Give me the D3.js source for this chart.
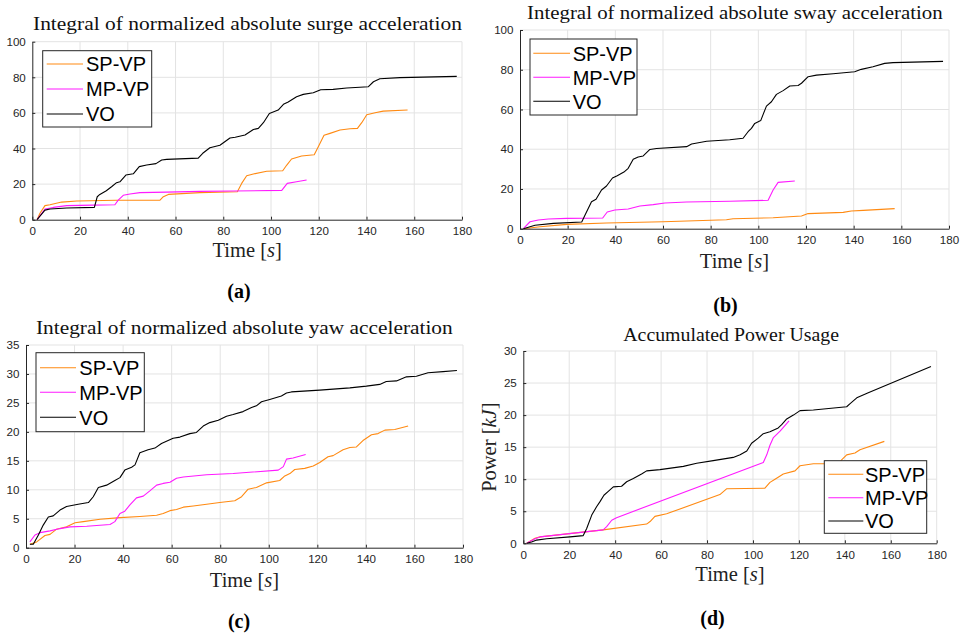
<!DOCTYPE html>
<html>
<head>
<meta charset="utf-8">
<script src="https://cdn.jsdelivr.net/npm/d3@7"></script>
<style>
  html, body { margin: 0; padding: 0; background: #fff; }
  svg { display: block; }
  .tick text { font-family: "Liberation Sans", Arial, sans-serif; font-size: 11.6px; fill: #262626; }
</style>
</head>
<body>
<svg id="fig" width="961" height="638"></svg>
<script>
// Series names shared by all four panels
const seriesNames = ["SP-VP", "MP-VP", "VO"];
const seriesColors = ["#ff8a12", "#ff1aff", "#000000"];

// Tick labels
const timeTicks = [0, 20, 40, 60, 80, 100, 120, 140, 160, 180];
const pctTicks = [0, 20, 40, 60, 80, 100];
const yawTicks = [0, 5, 10, 15, 20, 25, 30, 35];
const powerTicks = [0, 5, 10, 15, 20, 25, 30];

// (a) surge acceleration integral: [time s, value]
const surgeSP = [[2,0],[3.2,3.6],[5.3,7.9],[7.4,8.4],[12.3,9.9],[18.6,10.5],[35.3,10.9],[53.5,11],[54.9,12.9],[57,14.2],[70.2,15.2],[85.9,15.7],[87.7,20.4],[89.8,24.7],[92.6,25.7],[98.2,27.2],[104.9,27.5],[106.6,30.7],[108.6,34.1],[112.8,35.8],[118.1,36.5],[119.8,41],[122.2,47.4],[124.7,48.5],[128.9,50.4],[133.1,51.1],[136.2,51.3],[138,54.5],[140.1,59],[143.6,60.1],[147,61],[157.2,61.6]];
const surgeMP = [[2,0],[5.3,6],[8.8,6.9],[14.4,7.9],[25.6,8.2],[34.6,8.4],[36,11],[38.1,13.7],[40.9,14.4],[45.1,15.2],[56.3,15.5],[70.2,15.9],[84.2,16.1],[104.5,16.5],[106.8,20.4],[110.7,21.3],[114.9,22.3]];
const surgeVO = [[2,0],[5.3,5.4],[7.4,6],[14.4,6.6],[26,6.9],[27.2,12.9],[28.3,14.2],[31,16.3],[33.2,18.5],[35.3,20.8],[36.7,21.3],[39.2,25.1],[42.3,25.8],[44.8,29.8],[47.9,30.7],[51.8,31.5],[54.2,33.5],[56.3,33.9],[69.5,34.6],[71.4,37.3],[74.4,40.4],[78.6,41.8],[82.8,45.9],[85,46.3],[89.1,47.6],[92.6,50.7],[94.7,51.3],[96.8,54.5],[99.3,59.7],[103,61.6],[105.2,64.8],[107.2,66.1],[110.7,69.1],[113.5,70.4],[117.7,71.3],[120.8,73],[126,73.2],[131.7,74],[140.8,74.7],[142.9,77.5],[145.6,79.2],[154,79.8],[177.8,80.5]];

// (b) sway acceleration integral
const swaySP = [[1.4,0],[8.4,1],[19.6,2.2],[36.3,2.9],[60.1,3.5],[86.6,4.5],[89.4,5],[106.2,5.5],[118.1,6.4],[120.9,7.6],[135.6,8.2],[139,8.9],[144,9.2],[157.2,10.1]];
const swayMP = [[1.4,0],[4.2,3.5],[7.7,4.4],[11.9,4.9],[19.6,5.2],[34.7,5.4],[36.6,8.4],[39.8,9.4],[45.4,9.9],[50.3,11.4],[55.9,12.1],[60.8,12.9],[69.9,13.4],[88,13.8],[104.1,14.3],[106.2,19.5],[108.3,23.3],[115.3,24]];
const swayVO = [[1.4,0],[6.3,1.7],[14,2.7],[25.9,3.4],[27.3,6.9],[30,13.6],[31.9,14.8],[34.2,19.5],[36.3,21.5],[38.8,25.5],[40.8,26.7],[43.6,28.5],[45.4,30.4],[47.5,34.9],[49.6,36.1],[51.7,36.6],[54.5,39.9],[57.3,40.4],[69.9,41.3],[72,42.6],[78.3,44],[88,44.8],[93.6,45.5],[95.7,48.8],[97.1,50.5],[98.5,53],[101,54.4],[103.4,61.7],[105.5,63.9],[107.6,67.6],[110.4,69.5],[113.2,71.8],[116.7,72.1],[118.1,73.2],[120.9,76.5],[124.4,77.3],[131.4,78],[140.4,79],[143.2,80.2],[148.1,81.5],[153,83.2],[156.5,83.6],[177.5,84.2]];

// (c) yaw acceleration integral
const yawSP = [[1.6,0.6],[4.4,1],[7.8,2.1],[9.9,2.3],[12.6,3.2],[16.7,3.6],[20.2,4.3],[23.6,4.5],[30.5,4.9],[38.7,5.2],[46.9,5.4],[53.8,5.6],[56.5,5.9],[59.3,6.4],[62,6.6],[64.8,7],[68.9,7.2],[74.4,7.5],[79.8,7.8],[86,8.1],[88.8,8.8],[91.5,10.1],[94.9,10.4],[99.1,11.2],[104.5,11.6],[106.6,12.4],[108.7,12.8],[110.7,13.5],[114.8,13.7],[118.3,14.1],[121,14.7],[124.4,15.7],[126.5,15.9],[130.6,16.9],[133.4,17.3],[136.1,17.4],[138.8,18.5],[142.3,19.5],[145,19.7],[147.8,20.3],[151.9,20.4],[157.4,21]];
const yawMP = [[1.6,1],[3.7,2.2],[5.8,2.6],[9.9,2.9],[14,3.3],[18.1,3.6],[25,3.7],[34.6,4],[36.6,4.5],[38.7,5.9],[40.7,6.3],[42.8,7.4],[45.5,8.6],[48.3,8.9],[51,9.8],[53.8,10.8],[56.5,11.1],[59.3,11.3],[62,12],[64.8,12.2],[74.4,12.6],[85.3,12.8],[103.9,13.4],[106,14],[107.3,15.3],[110,15.5],[115.2,16.1]];
const yawVO = [[1.6,0.6],[3,0.6],[5.1,2.2],[7.1,3.9],[9.2,5.3],[11.2,5.5],[14,6.5],[16.7,7.1],[21.5,7.5],[25.7,7.8],[27.7,8.8],[29.8,10.4],[33.2,10.8],[36.6,11.6],[38.7,12.1],[40.7,13.4],[43.5,13.9],[44.9,14.3],[46.9,16.4],[50.3,16.9],[53.1,17.2],[55.8,18],[60.6,18.9],[63.4,19.1],[67.5,19.7],[70.2,19.9],[73,21],[75.7,21.6],[79.2,22],[82.6,22.7],[85.3,23],[89.4,23.5],[92.9,24.2],[94.9,24.5],[97,25.2],[100.4,25.6],[105.2,26.2],[107.3,26.7],[109.3,26.9],[121,27.2],[133.4,27.6],[140.2,27.9],[145.7,28.2],[148.4,28.7],[152.6,28.8],[156.7,29.5],[160.8,29.6],[165.6,30.2],[171.8,30.4],[177.5,30.6]];

// (d) accumulated power usage, kJ
const powerSP = [[1.5,0],[5.1,0.8],[7.3,1],[34.8,2.1],[53.7,3],[55.2,3.4],[57.3,4.2],[62.4,4.6],[85.6,7.6],[88.5,8.5],[105.2,8.6],[107.4,9.5],[109.6,10],[113.2,10.8],[118.3,11.3],[120.5,12.1],[126.3,12.4],[137.2,12.4],[138.6,13],[140.8,13.8],[144.4,14.1],[146.6,14.6],[157.2,15.9]];
const powerMP = [[1.5,0],[5.1,0.7],[7.3,1],[34.8,2.1],[36.3,2.6],[38.5,3.6],[40.6,4],[104.5,12.6],[106,13.8],[107.4,15.3],[108.9,16.5],[111.8,17.5],[115.7,19.1]];
const powerVO = [[1.5,0],[3.6,0.2],[5.8,0.5],[10.2,0.7],[20.3,1],[26.1,1.2],[27.6,2.3],[29.8,4.4],[31.9,5.7],[33.4,6.5],[35.1,7.5],[37,8.1],[39.2,8.8],[42.8,8.9],[45,9.6],[47.9,10.1],[51.5,10.8],[53.7,11.3],[59.5,11.5],[69.7,12],[75.5,12.5],[82.7,12.9],[91.4,13.4],[94.4,13.8],[97.3,14.4],[99.4,15.6],[102.3,16.4],[104.5,17.1],[107.4,17.4],[111,18],[112.5,18.5],[114.7,19.4],[117.6,20],[120.5,20.7],[126.3,20.8],[140.8,21.3],[142.3,21.8],[145.2,22.7],[150.2,23.5],[177.5,27.6]];

const panels = [
  { title: "Integral of normalized absolute surge acceleration", titleX: [33, 462], titleY: 30,
    box: { left: 32.3, right: 462, top: 41.7, bottom: 219.7 }, yMax: 100, yTicks: pctTicks,
    series: [surgeSP, surgeMP, surgeVO],
    legend: { x: 42.7, y: 50.7, w: 109, h: 76.3, rows: [64, 89, 114], lineX: [46.7, 83], textX: 86 },
    xlabelY: 256.7, tag: "(a)", tagX: 239, tagY: 298.3 },
  { title: "Integral of normalized absolute sway acceleration", titleX: [527, 942.7], titleY: 18.6,
    box: { left: 520, right: 949, top: 30, bottom: 228.7 }, yMax: 100, yTicks: pctTicks,
    series: [swaySP, swayMP, swayVO],
    legend: { x: 530, y: 39, w: 107, h: 76, rows: [53.3, 77.3, 101.3], lineX: [533.3, 570], textX: 572.7 },
    xlabelY: 268.3, tag: "(b)", tagX: 725.5, tagY: 311.7 },
  { title: "Integral of normalized absolute yaw acceleration", titleX: [36, 452.7], titleY: 334,
    box: { left: 26, right: 463, top: 345, bottom: 547.7 }, yMax: 35, yTicks: yawTicks,
    series: [yawSP, yawMP, yawVO],
    legend: { x: 36, y: 352.7, w: 108.3, h: 79, rows: [367.7, 392.3, 417.3], lineX: [40, 76], textX: 79.3 },
    xlabelY: 586.7, tag: "(c)", tagX: 239, tagY: 628.3 },
  { title: "Accumulated Power Usage", titleX: [623.3, 839], titleY: 341,
    box: { left: 523.3, right: 936.7, top: 351, bottom: 543.3 }, yMax: 30, yTicks: powerTicks,
    series: [powerSP, powerMP, powerVO],
    legend: { x: 824.3, y: 460.7, w: 102.4, h: 72.6, rows: [474.3, 497.7, 521], lineX: [828.3, 863.3], textX: 865 },
    xlabelY: 581, ylabel: true, tag: "(d)", tagX: 712.5, tagY: 625 }
];

const svg = d3.select("#fig");
const serif = "'Liberation Serif', 'Times New Roman', serif";
const sans = "'Liberation Sans', Arial, sans-serif";
const axisColor = "#262626";

panels.forEach(p => {
  const g = svg.append("g");
  const x = d3.scaleLinear().domain([0, 180]).range([p.box.left, p.box.right]);
  const y = d3.scaleLinear().domain([0, p.yMax]).range([p.box.bottom, p.box.top]);

  // grid
  g.append("g").selectAll("line").data(timeTicks.filter(t => t > 0)).join("line")
    .attr("x1", d => x(d)).attr("x2", d => x(d))
    .attr("y1", p.box.top).attr("y2", p.box.bottom)
    .attr("stroke", "#e3e3e3").attr("stroke-width", 1);
  g.append("g").selectAll("line").data(p.yTicks.filter(t => t > 0)).join("line")
    .attr("x1", p.box.left).attr("x2", p.box.right)
    .attr("y1", d => y(d)).attr("y2", d => y(d))
    .attr("stroke", "#e3e3e3").attr("stroke-width", 1);

  // series
  const line = d3.line().x(d => x(d[0])).y(d => y(d[1])).curve(d3.curveLinear);
  p.series.forEach((s, i) => {
    g.append("path").datum(s).attr("d", line)
      .attr("fill", "none").attr("stroke", seriesColors[i]).attr("stroke-width", 1.1)
      .attr("stroke-linejoin", "round");
  });

  // axes
  const ax = g.append("g").attr("transform", `translate(0,${p.box.bottom})`)
    .call(d3.axisBottom(x).tickValues(timeTicks).tickSizeInner(-3).tickSizeOuter(0).tickPadding(7.5));
  const ay = g.append("g").attr("transform", `translate(${p.box.left},0)`)
    .call(d3.axisLeft(y).tickValues(p.yTicks).tickSizeInner(-3).tickSizeOuter(0).tickPadding(6.5));
  [ax, ay].forEach(a => {
    a.select(".domain").attr("stroke", axisColor).attr("stroke-width", 1);
    a.selectAll(".tick line").attr("stroke", axisColor);
  });

  // title
  g.append("text").attr("x", p.titleX[0]).attr("y", p.titleY)
    .attr("textLength", p.titleX[1] - p.titleX[0]).attr("lengthAdjust", "spacingAndGlyphs")
    .attr("font-family", serif).attr("font-size", 18.5).attr("fill", "#111")
    .text(p.title);

  // x label
  const xl = g.append("text").attr("x", (p.box.left + p.box.right) / 2).attr("y", p.xlabelY)
    .attr("text-anchor", "middle").attr("font-family", serif).attr("font-size", 20.5).attr("fill", "#222");
  xl.append("tspan").text("Time [");
  xl.append("tspan").attr("font-style", "italic").text("s");
  xl.append("tspan").text("]");

  if (p.ylabel) {
    const yl = g.append("text")
      .attr("transform", `translate(496,${(p.box.top + p.box.bottom) / 2}) rotate(-90)`)
      .attr("text-anchor", "middle").attr("font-family", serif).attr("font-size", 20.5).attr("fill", "#222");
    yl.append("tspan").text("Power [");
    yl.append("tspan").attr("font-style", "italic").text("kJ");
    yl.append("tspan").text("]");
  }

  // legend
  const L = p.legend;
  const lg = g.append("g");
  lg.append("rect").attr("x", L.x).attr("y", L.y).attr("width", L.w).attr("height", L.h)
    .attr("fill", "#fff").attr("stroke", axisColor).attr("stroke-width", 1);
  seriesNames.forEach((name, i) => {
    lg.append("line").attr("x1", L.lineX[0]).attr("x2", L.lineX[1])
      .attr("y1", L.rows[i]).attr("y2", L.rows[i])
      .attr("stroke", seriesColors[i]).attr("stroke-width", 1.1);
    lg.append("text").attr("x", L.textX).attr("y", L.rows[i]).attr("dy", "0.36em")
      .attr("font-family", sans).attr("font-size", 20).attr("fill", "#000").text(name);
  });

  // panel tag
  g.append("text").attr("x", p.tagX).attr("y", p.tagY).attr("text-anchor", "middle")
    .attr("font-family", serif).attr("font-weight", "bold").attr("font-size", 20).attr("fill", "#000")
    .text(p.tag);
});
</script>
</body>
</html>
